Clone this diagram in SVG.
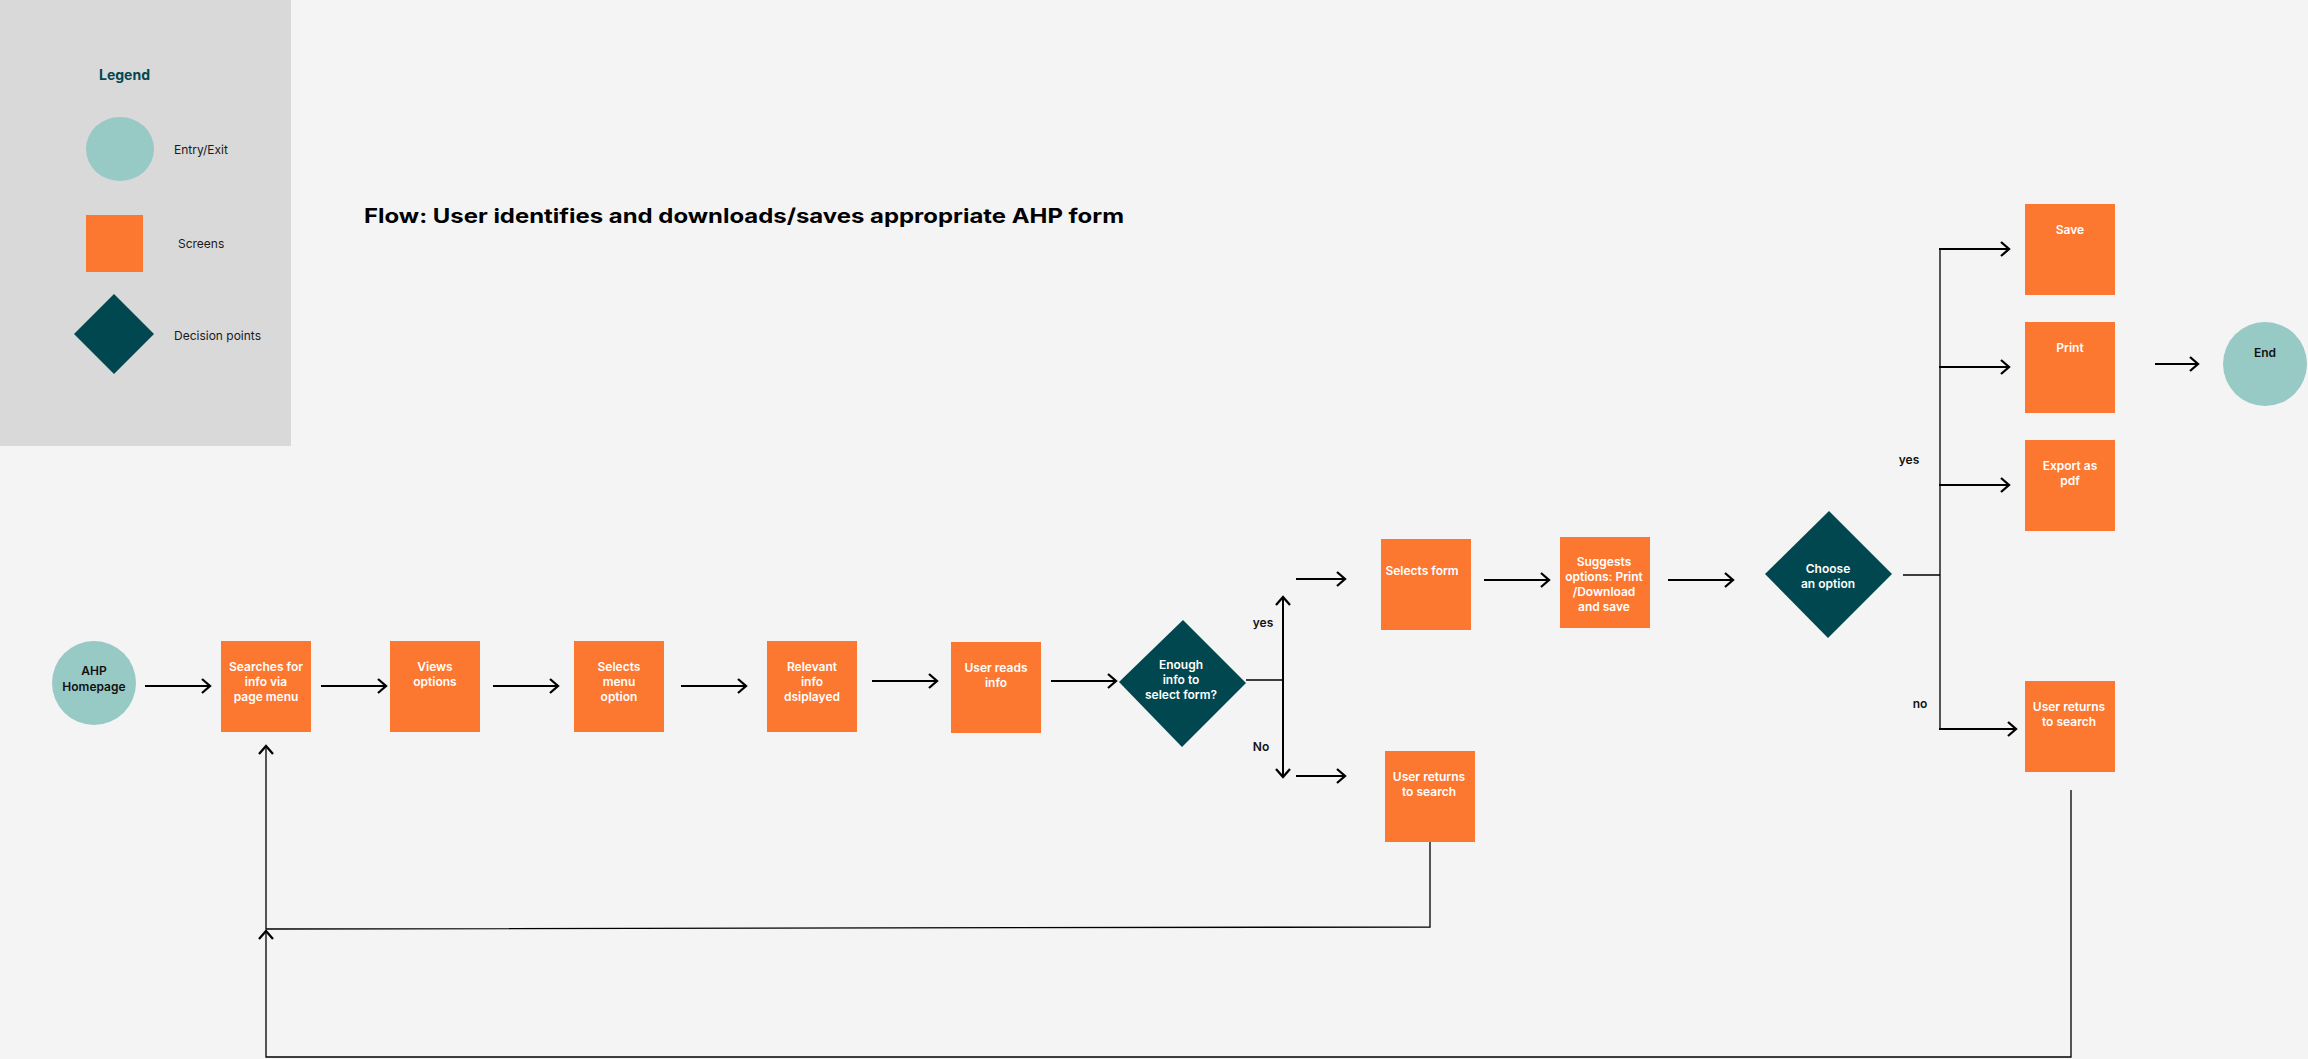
<svg xmlns="http://www.w3.org/2000/svg" width="2308" height="1059" viewBox="0 0 2308 1059">
<style>
.bg{fill:#f4f4f4}
.legend-bg{fill:#d9d9d9}
.entry{fill:#97c9c5}
.screen{fill:#fc7730}
.decision{fill:#01474f}
.t{font-family:Inter,"Noto Sans","Liberation Sans",sans-serif;font-size:12px;text-anchor:middle}
.wt{fill:#ffffff;font-weight:600}
.bt{fill:#111111;font-weight:600}
.lg{font-family:Inter,"Noto Sans","Liberation Sans",sans-serif;font-size:12px;fill:#1a1a1a}
.arrow{stroke:#000;stroke-width:2;fill:none;marker-end:url(#ah)}
.thin{stroke:#000;stroke-width:1.3;fill:none}
.thinarrow{stroke:#000;stroke-width:1.3;fill:none;marker-end:url(#ah)}
</style>
<defs>
<marker id="ah" viewBox="-12 -10 14 20" refX="0" refY="0" markerWidth="14" markerHeight="20" markerUnits="userSpaceOnUse" orient="auto">
<path d="M-8,-7 L0,0 L-8,7" fill="none" stroke="#000" stroke-width="2.3" stroke-linejoin="miter"/>
</marker>
</defs>
<rect class="bg" x="0" y="0" width="2308" height="1059"/>

<g id="legend">
<rect class="legend-bg" x="0" y="0" width="291" height="446"/>
<text x="99" y="80" style="font-family:Inter,'Noto Sans','Liberation Sans',sans-serif;font-size:14px;font-weight:700;fill:#01474f">Legend</text>
<ellipse class="entry" cx="120" cy="149" rx="34" ry="32"/>
<text class="lg" x="174" y="154">Entry/Exit</text>
<rect class="screen" x="86" y="215" width="57" height="57"/>
<text class="lg" x="178" y="248">Screens</text>
<polygon class="decision" points="114,294 154,334 114,374 74,334"/>
<text class="lg" x="174" y="340">Decision points</text>
</g>

<text x="364" y="223" textLength="760" lengthAdjust="spacingAndGlyphs" style="font-family:Inter,'Noto Sans','Liberation Sans',sans-serif;font-size:20px;font-weight:700;fill:#000">Flow: User identifies and downloads/saves appropriate AHP form</text>

<g id="connectors">
<line class="arrow" x1="145" y1="686" x2="210" y2="686"/>
<line class="arrow" x1="321" y1="686" x2="386" y2="686"/>
<line class="arrow" x1="493" y1="686" x2="558" y2="686"/>
<line class="arrow" x1="681" y1="686" x2="746" y2="686"/>
<line class="arrow" x1="872" y1="681" x2="937" y2="681"/>
<line class="arrow" x1="1051" y1="681" x2="1116" y2="681"/>
<line class="thin" x1="1246" y1="680" x2="1283" y2="680"/>
<line class="arrow" x1="1283" y1="680" x2="1283" y2="597"/>
<line class="arrow" x1="1283" y1="680" x2="1283" y2="777"/>
<line class="arrow" x1="1296" y1="579" x2="1345" y2="579"/>
<line class="arrow" x1="1296" y1="776" x2="1345" y2="776"/>
<line class="arrow" x1="1484" y1="580" x2="1549" y2="580"/>
<line class="arrow" x1="1668" y1="580" x2="1733" y2="580"/>
<line class="thin" x1="1903" y1="575" x2="1940" y2="575"/>
<line class="thin" x1="1940" y1="249" x2="1940" y2="729"/>
<line class="arrow" x1="1939" y1="249" x2="2009" y2="249"/>
<line class="arrow" x1="1939" y1="367" x2="2009" y2="367"/>
<line class="arrow" x1="1939" y1="485" x2="2009" y2="485"/>
<line class="arrow" x1="1939" y1="729" x2="2016" y2="729"/>
<line class="arrow" x1="2155" y1="364" x2="2198" y2="364"/>
<path class="thinarrow" d="M1430,842 V927 L266,929 V746"/>
<path class="thinarrow" d="M2071,790 V1057 H266 V931"/>
</g>

<g id="ahp-homepage">
<circle class="entry" cx="94" cy="683" r="42"/>
<text class="t bt" x="94" y="675">AHP</text>
<text class="t bt" x="94" y="691">Homepage</text>
</g>
<g id="searches">
<rect class="screen" x="221" y="641" width="90" height="91"/>
<text class="t wt" x="266" y="671">Searches for</text>
<text class="t wt" x="266" y="686">info via</text>
<text class="t wt" x="266" y="701">page menu</text>
</g>
<g id="views-options">
<rect class="screen" x="390" y="641" width="90" height="91"/>
<text class="t wt" x="435" y="671">Views</text>
<text class="t wt" x="435" y="686">options</text>
</g>
<g id="selects-menu">
<rect class="screen" x="574" y="641" width="90" height="91"/>
<text class="t wt" x="619" y="671">Selects</text>
<text class="t wt" x="619" y="686">menu</text>
<text class="t wt" x="619" y="701">option</text>
</g>
<g id="relevant-info">
<rect class="screen" x="767" y="641" width="90" height="91"/>
<text class="t wt" x="812" y="671">Relevant</text>
<text class="t wt" x="812" y="686">info</text>
<text class="t wt" x="812" y="701">dsiplayed</text>
</g>
<g id="user-reads">
<rect class="screen" x="951" y="642" width="90" height="91"/>
<text class="t wt" x="996" y="672">User reads</text>
<text class="t wt" x="996" y="687">info</text>
</g>
<g id="enough-info">
<polygon class="decision" points="1183,620 1246,683 1182,747 1119,682"/>
<text class="t wt" x="1181" y="669">Enough</text>
<text class="t wt" x="1181" y="684">info to</text>
<text class="t wt" x="1181" y="699">select form?</text>
</g>
<g id="labels1">
<text class="t bt" x="1263" y="627">yes</text>
<text class="t bt" x="1261" y="751">No</text>
</g>
<g id="selects-form">
<rect class="screen" x="1381" y="539" width="90" height="91"/>
<text class="t wt" x="1422" y="575">Selects form</text>
</g>
<g id="user-returns-1">
<rect class="screen" x="1385" y="751" width="90" height="91"/>
<text class="t wt" x="1429" y="781">User returns</text>
<text class="t wt" x="1429" y="796">to search</text>
</g>
<g id="suggests">
<rect class="screen" x="1560" y="537" width="90" height="91"/>
<text class="t wt" x="1604" y="566">Suggests</text>
<text class="t wt" x="1604" y="581">options: Print</text>
<text class="t wt" x="1604" y="596">/Download</text>
<text class="t wt" x="1604" y="611">and save</text>
</g>
<g id="choose-option">
<polygon class="decision" points="1829,511 1892,574 1828,638 1765,574"/>
<text class="t wt" x="1828" y="573">Choose</text>
<text class="t wt" x="1828" y="588">an option</text>
</g>
<g id="labels2">
<text class="t bt" x="1909" y="464">yes</text>
<text class="t bt" x="1920" y="708">no</text>
</g>
<g id="save">
<rect class="screen" x="2025" y="204" width="90" height="91"/>
<text class="t wt" x="2070" y="234">Save</text>
</g>
<g id="print">
<rect class="screen" x="2025" y="322" width="90" height="91"/>
<text class="t wt" x="2070" y="352">Print</text>
</g>
<g id="export-pdf">
<rect class="screen" x="2025" y="440" width="90" height="91"/>
<text class="t wt" x="2070" y="470">Export as</text>
<text class="t wt" x="2070" y="485">pdf</text>
</g>
<g id="user-returns-2">
<rect class="screen" x="2025" y="681" width="90" height="91"/>
<text class="t wt" x="2069" y="711">User returns</text>
<text class="t wt" x="2069" y="726">to search</text>
</g>
<g id="end">
<circle class="entry" cx="2265" cy="364" r="42"/>
<text class="t bt" x="2265" y="357">End</text>
</g>
</svg>
